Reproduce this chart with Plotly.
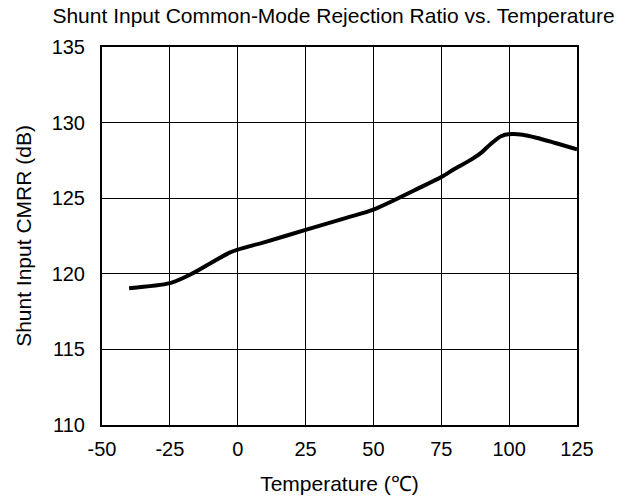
import plotly.graph_objects as go

# Shunt input CMRR vs temperature
temp_c = [-40, -25, -18, -10, -3, 0, 10, 25, 40, 50, 58, 66, 75, 80, 86, 90, 93, 97, 101, 105, 110, 117, 125]
cmrr_db = [119.05, 119.38, 119.9, 120.7, 121.4, 121.6, 122.1, 122.9, 123.7, 124.25, 124.9, 125.6, 126.4, 126.95, 127.55, 128.05, 128.55, 129.1, 129.25, 129.2, 129.0, 128.65, 128.24]

x_ticks = [-50, -25, 0, 25, 50, 75, 100, 125]
y_ticks = [110, 115, 120, 125, 130, 135]

font = "Arial, Liberation Sans, sans-serif"

fig = go.Figure()
fig.add_trace(go.Scatter(x=temp_c, y=cmrr_db, mode="lines",
                         line=dict(color="black", width=4, shape="spline", smoothing=0.8),
                         showlegend=False, hoverinfo="skip"))

fig.update_layout(
    width=627, height=499,
    margin=dict(l=102, r=50, t=47, b=74),
    plot_bgcolor="white", paper_bgcolor="white",
    font=dict(family=font, size=20, color="black"),
    title=dict(text="Shunt Input Common-Mode Rejection Ratio vs. Temperature",
               x=0.532, xanchor="center", y=0.969, yanchor="middle",
               font=dict(family=font, size=21, color="black")),
)
fig.update_xaxes(range=[-50, 125], tickvals=x_ticks, ticktext=[str(v) for v in x_ticks],
                 showgrid=True, gridcolor="black", gridwidth=1,
                 showline=True, linecolor="black", linewidth=2, mirror=True,
                 zeroline=False, ticks="", ticklabelstandoff=5, automargin=False,
                 title=dict(text="Temperature (℃)", standoff=17, font=dict(size=21)))
fig.update_yaxes(range=[110, 135], tickvals=y_ticks,
                 showgrid=True, gridcolor="black", gridwidth=1,
                 showline=True, linecolor="black", linewidth=2, mirror=True,
                 zeroline=False, ticks="", ticklabelstandoff=11, automargin=False,
                 title=dict(text="Shunt Input CMRR (dB)", standoff=14, font=dict(size=21)))

# drop the default 8px body margin so the figure fills the window
fig.write_html("out.html", config={"displayModeBar": False},
               post_script="document.body.style.margin = '0';")
